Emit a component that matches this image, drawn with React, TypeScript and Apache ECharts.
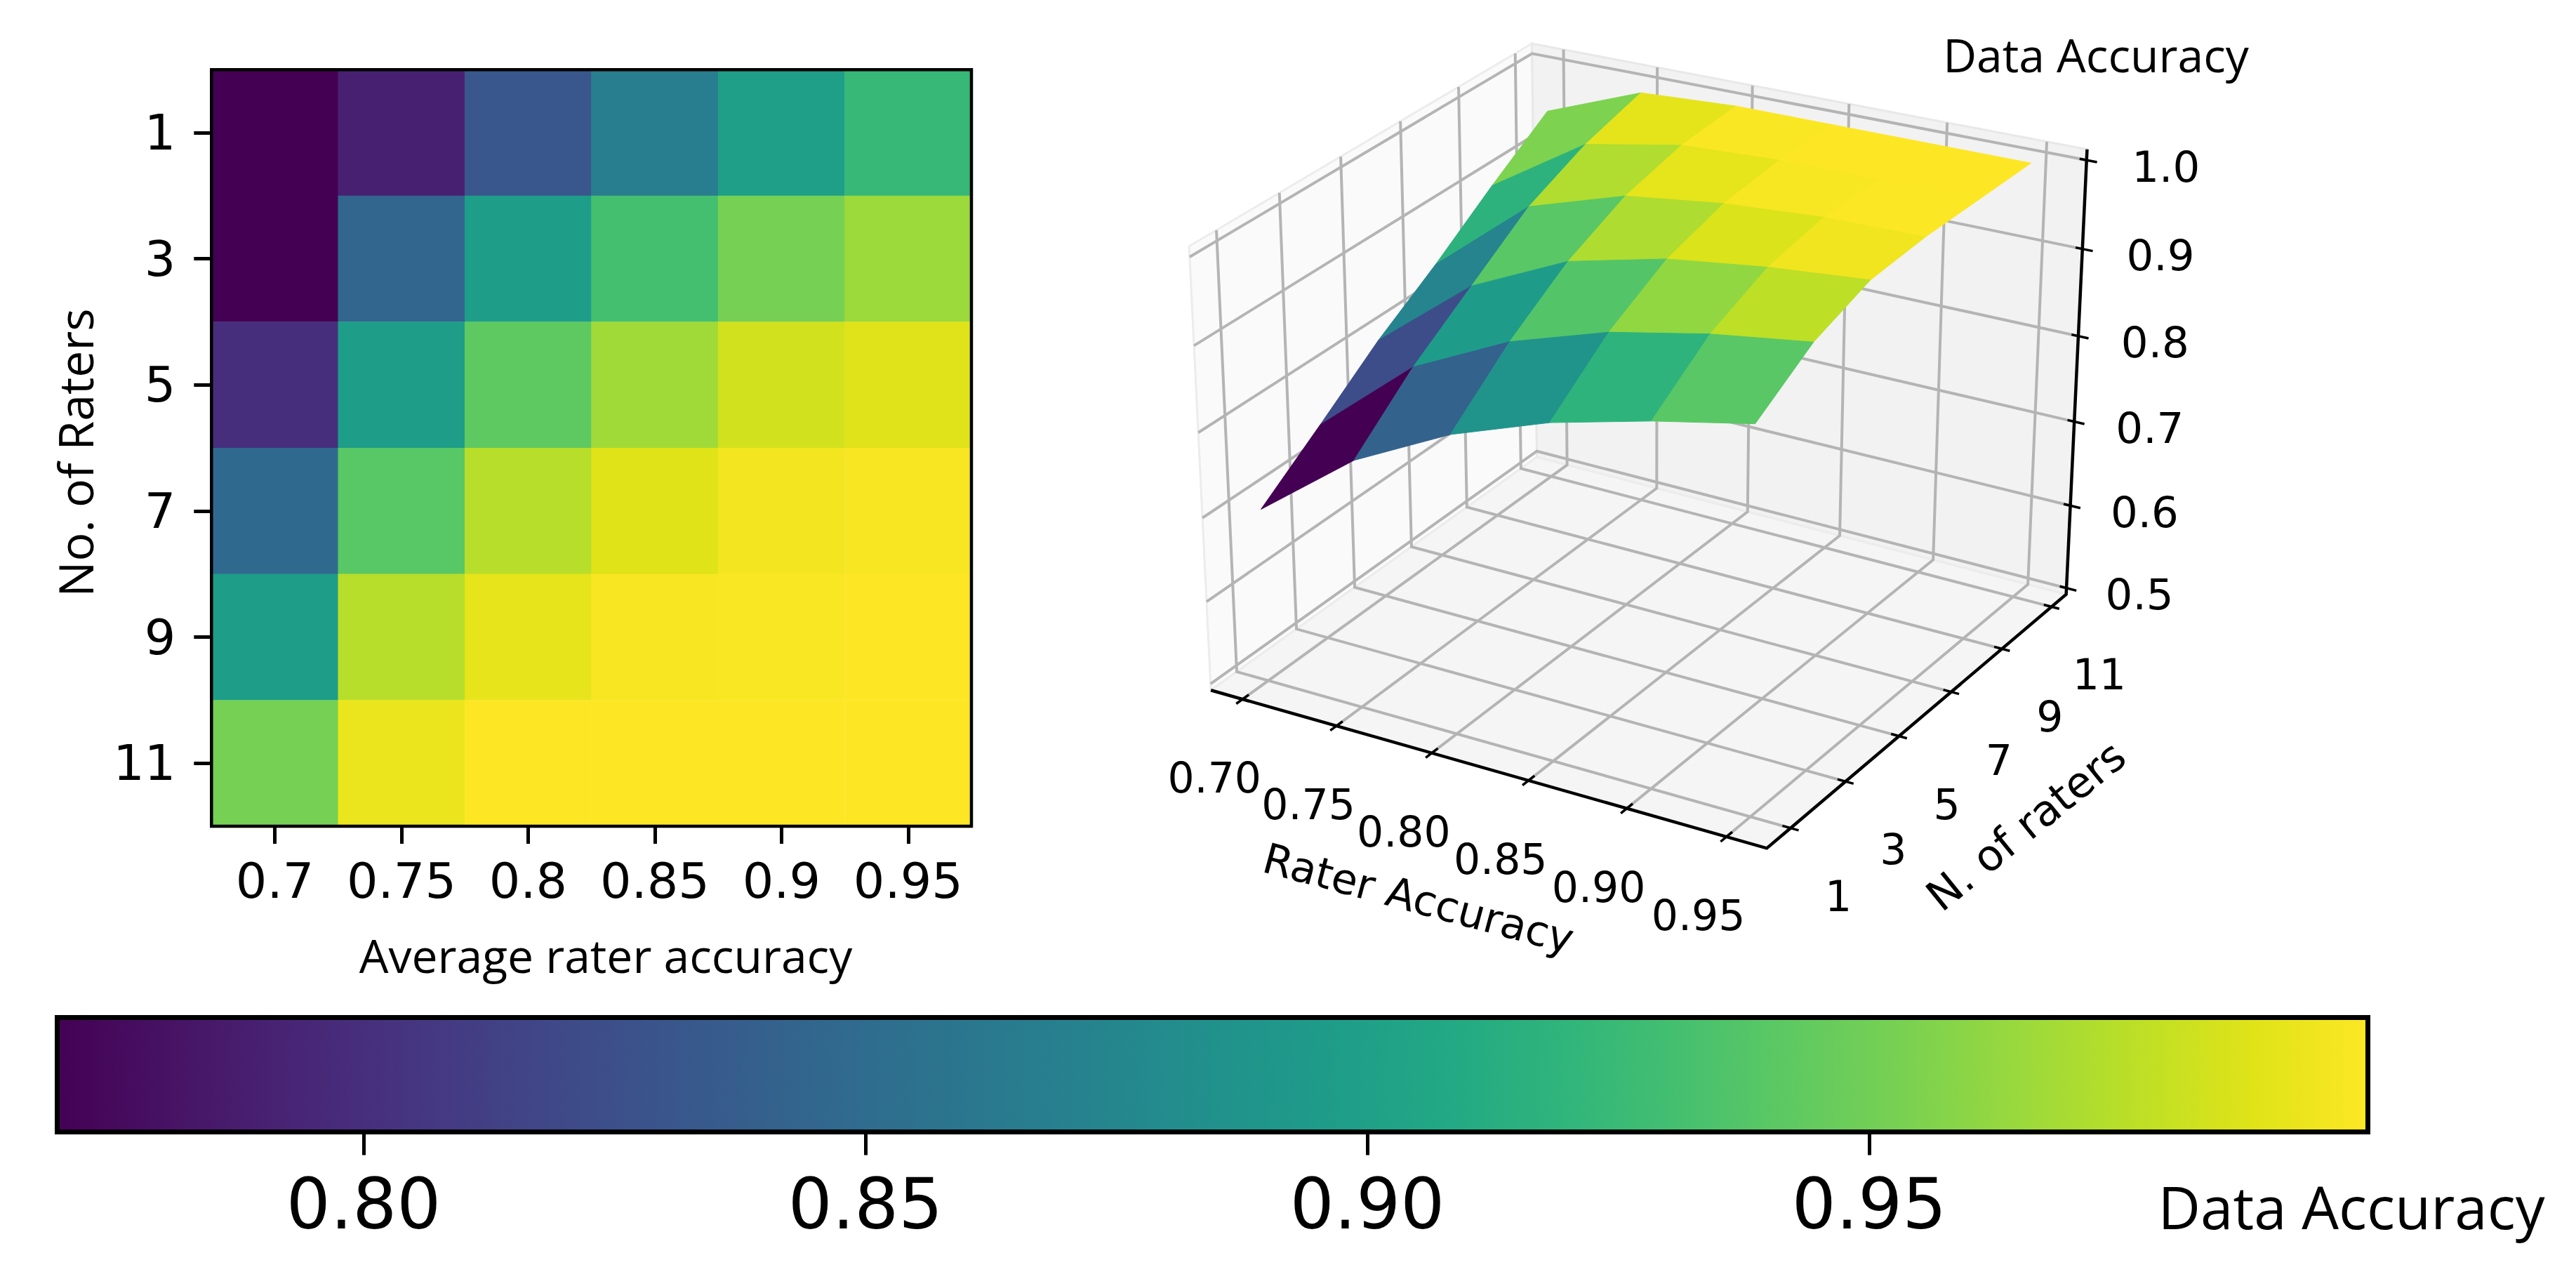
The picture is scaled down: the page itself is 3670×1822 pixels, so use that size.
import React, { useEffect, useRef } from "react";
import * as echarts from "echarts";

const raterAccuracy = ["0.7", "0.75", "0.8", "0.85", "0.9", "0.95"];
const raterCounts = ["1", "3", "5", "7", "9", "11"];

// heat map values, one row per number of raters
const heat1 = [0.77, 0.79, 0.832, 0.867, 0.899, 0.924];
const heat3 = [0.77, 0.845, 0.897, 0.931, 0.952, 0.966];
const heat5 = [0.8, 0.897, 0.943, 0.967, 0.984, 0.989];
const heat7 = [0.848, 0.94, 0.975, 0.9885, 0.996, 0.998];
const heat9 = [0.897, 0.975, 0.9915, 0.998, 0.999, 1.0];
const heat11 = [0.952, 0.993, 1.0, 1.0, 1.0, 1.0];
const heatRows = [heat1, heat3, heat5, heat7, heat9, heat11];

// 3D surface heights
const surfaceX = [0.7, 0.75, 0.8, 0.85, 0.9, 0.95];
const surfaceY = [1, 3, 5, 7, 9, 11];
const surf1 = [0.699, 0.784, 0.84, 0.879, 0.906, 0.928];
const surf3 = [0.751, 0.845, 0.899, 0.934, 0.956, 0.971];
const surf5 = [0.805, 0.894, 0.946, 0.972, 0.986, 0.995];
const surf7 = [0.851, 0.943, 0.978, 0.992, 0.999, 1.0];
const surf9 = [0.902, 0.974, 0.995, 1.0, 1.0, 1.0];
const surf11 = [0.95, 0.994, 1.0, 1.0, 1.0, 1.0];
const surfRows = [surf1, surf3, surf5, surf7, surf9, surf11];

const zTicks = [0.5, 0.6, 0.7, 0.8, 0.9, 1.0];
const xTickLabels = ["0.70", "0.75", "0.80", "0.85", "0.90", "0.95"];
const colorbarTicks = [0.8, 0.85, 0.9, 0.95];
const colorbarRange = [0.76948, 0.99969];
const scaleRange = [0.77, 1.0];

const viridis = [
  "#440154", "#471365", "#482475", "#463480", "#414487", "#3b528b", "#355f8d",
  "#2f6c8e", "#2a788e", "#25848e", "#21918c", "#1e9c89", "#22a884", "#2fb47c",
  "#44bf70", "#5ec962", "#7ad151", "#9bd93c", "#bddf26", "#dfe318", "#fde725",
];

const TICK_FONT = "DejaVu Sans";
const NOTE_FONT = "Open Sans";

// mplot3d style view: elev 30, azim -60, distance 10
const XLIM = [0.683, 0.97];
const YLIM = [0.15, 11.6];
const ZLIM = [0.4922, 1.012];
function project(x: number, y: number, z: number): number[] {
  const dx = (x - XLIM[0]) / (XLIM[1] - XLIM[0]) - 0.5;
  const dy = (y - YLIM[0]) / (YLIM[1] - YLIM[0]) - 0.5;
  const dz = ((z - ZLIM[0]) / (ZLIM[1] - ZLIM[0]) - 0.5) * 0.96 * (1.015 + 0.045 * dx - 0.021 * dy);
  const xv = 0.866025 * dx + 0.5 * dy;
  const yv = -0.25 * dx + 0.433013 * dy + 0.866025 * dz;
  const zv = 0.433013 * dx - 0.75 * dy + 0.5 * dz;
  const f = 10 / (10 - zv);
  return [2344 + 913.5 * xv * f, 605 - 750 * yv * f];
}

function hexToRgb(h: string) {
  return [1, 3, 5].map((i) => parseInt(h.slice(i, i + 2), 16));
}
function viridisAt(v: number) {
  const t = Math.max(0, Math.min(1, (v - scaleRange[0]) / (scaleRange[1] - scaleRange[0]))) * (viridis.length - 1);
  const i = Math.min(viridis.length - 2, Math.floor(t));
  const a = hexToRgb(viridis[i]);
  const b = hexToRgb(viridis[i + 1]);
  const c = a.map((p, k) => Math.round(p + (b[k] - p) * (t - i)));
  return `rgb(${c[0]},${c[1]},${c[2]})`;
}

const line = (pts: number[][], stroke: string, lineWidth: number) => ({
  type: "polyline",
  shape: { points: pts },
  style: { stroke, lineWidth, fill: "none" },
});
const poly = (pts: number[][], fill: string, stroke: string, lineWidth: number) => ({
  type: "polygon",
  shape: { points: pts },
  style: { fill, stroke, lineWidth },
});
const label = (text: string, x: number, y: number, fontSize: number, rotation = 0) => ({
  type: "text",
  x,
  y,
  rotation,
  style: { text, fill: "#000", fontFamily: TICK_FONT, fontSize, align: "center", verticalAlign: "middle" },
});

function renderFrame() {
  const [x0, x1] = XLIM;
  const [y0, y1] = YLIM;
  const [z0, z1] = ZLIM;
  const p = project;
  const children: any[] = [
    poly([p(x0, y0, z0), p(x0, y1, z0), p(x0, y1, z1), p(x0, y0, z1)], "#fafafa", "#ececec", 3),
    poly([p(x0, y1, z0), p(x1, y1, z0), p(x1, y1, z1), p(x0, y1, z1)], "#f2f2f2", "#e8e8e8", 3),
    poly([p(x0, y0, z0), p(x1, y0, z0), p(x1, y1, z0), p(x0, y1, z0)], "#f5f5f5", "#ececec", 3),
  ];
  const grid = "#b4b4b4";
  surfaceX.forEach((x) => children.push(line([p(x, y0, z0), p(x, y1, z0), p(x, y1, z1)], grid, 4)));
  surfaceY.forEach((y) => children.push(line([p(x1, y, z0), p(x0, y, z0), p(x0, y, z1)], grid, 4)));
  zTicks.forEach((z) => children.push(line([p(x0, y0, z), p(x0, y1, z), p(x1, y1, z)], grid, 4)));
  return { type: "group", children };
}

function renderAxes() {
  const [x0, x1] = XLIM;
  const [y0, y1] = YLIM;
  const [z0, z1] = ZLIM;
  const p = project;
  const xr = x1 - x0;
  const yr = y1 - y0;
  const children: any[] = [
    line([p(x0, y0, z0), p(x1, y0, z0), p(x1, y1, z0), p(x1, y1, z1)], "#000", 4.5),
  ];
  surfaceX.forEach((x, i) => {
    children.push(line([p(x, y0 - 0.018 * yr, z0), p(x, y0 + 0.018 * yr, z0)], "#000", 3.5));
    const a = p(x, y0, z0);
    children.push(label(xTickLabels[i], a[0] - 40, a[1] + 112, 60));
  });
  surfaceY.forEach((y, i) => {
    children.push(line([p(x1 - 0.014 * xr, y, z0), p(x1 + 0.014 * xr, y, z0)], "#000", 3.5));
    const a = p(x1, y, z0);
    children.push(label(raterCounts[i], a[0] + 68, a[1] + 97, 60));
  });
  zTicks.forEach((z) => {
    children.push(line([p(x1 - 0.012 * xr, y1, z), p(x1 + 0.018 * xr, y1, z)], "#000", 3.5));
    const a = p(x1, y1, z);
    children.push(label(z.toFixed(1), a[0] + 104 + 18 * (z - 0.5), a[1] + 9, 61));
  });
  children.push(label("Rater Accuracy", 2021, 1280, 60, (-15 * Math.PI) / 180));
  children.push(label("N. of raters", 2886, 1176, 61, (39 * Math.PI) / 180));
  return { type: "group", children };
}

const noteText = (text: string, x: number, y: number, fontSize: number, rotation = 0) => ({
  type: "text",
  x,
  y,
  rotation,
  style: { text, fill: "#000", font: `${fontSize}px "${NOTE_FONT}"`, textAlign: "center", textVerticalAlign: "middle" },
});

export default function App() {
  const ref = useRef<HTMLDivElement>(null);
  useEffect(() => {
    document.body.style.margin = "0";
    const chart = echarts.init(ref.current!, undefined, { renderer: "svg" });

    const heatData: number[][] = [];
    heatRows.forEach((row, r) => row.forEach((v, c) => heatData.push([c, r, v])));

    const cells: number[][] = [];
    for (let j = surfaceY.length - 2; j >= 0; j--) {
      for (let i = 0; i < surfaceX.length - 1; i++) {
        cells.push([
          surfaceX[i], surfaceX[i + 1], surfaceY[j], surfaceY[j + 1],
          surfRows[j][i], surfRows[j][i + 1], surfRows[j + 1][i + 1], surfRows[j + 1][i],
        ]);
      }
    }

    const gradientStops = viridis.map((color, i) => ({ offset: i / (viridis.length - 1), color }));

    chart.setOption({
      animation: false,
      backgroundColor: "#fff",
      grid: [
        { left: 301.3, top: 99.3, width: 1082.7, height: 1077.7, containLabel: false },
        { left: 81.5, top: 1449.5, width: 3292, height: 163, containLabel: false },
      ],
      xAxis: [
        {
          type: "category",
          gridIndex: 0,
          data: raterAccuracy,
          axisLine: { show: true, lineStyle: { color: "#000", width: 4 } },
          axisTick: { show: true, alignWithLabel: true, length: 25, lineStyle: { color: "#000", width: 5 } },
          axisLabel: { interval: 0, color: "#000", fontFamily: TICK_FONT, fontSize: 70, margin: 43 },
          splitLine: { show: false },
        },
        {
          type: "value",
          gridIndex: 1,
          min: colorbarRange[0],
          max: colorbarRange[1],
          axisLine: { show: false },
          axisTick: { show: true, length: 33, customValues: colorbarTicks, lineStyle: { color: "#000", width: 5 } },
          axisLabel: {
            color: "#000",
            fontFamily: TICK_FONT,
            fontSize: 99,
            margin: 53,
            customValues: colorbarTicks,
            formatter: (v: number) => v.toFixed(2),
          },
          splitLine: { show: false },
        },
      ],
      yAxis: [
        {
          type: "category",
          gridIndex: 0,
          inverse: true,
          data: raterCounts,
          axisLine: { show: true, lineStyle: { color: "#000", width: 4 } },
          axisTick: { show: true, alignWithLabel: true, length: 25, lineStyle: { color: "#000", width: 5 } },
          axisLabel: { interval: 0, color: "#000", fontFamily: TICK_FONT, fontSize: 70, margin: 51 },
          splitLine: { show: false },
        },
        {
          type: "value",
          gridIndex: 1,
          min: 0,
          max: 1,
          show: false,
        },
      ],
      visualMap: {
        show: false,
        seriesIndex: 0,
        min: scaleRange[0],
        max: scaleRange[1],
        inRange: { color: viridis },
      },
      series: [
        {
          type: "heatmap",
          xAxisIndex: 0,
          yAxisIndex: 0,
          data: heatData,
          itemStyle: { borderWidth: 0 },
          z: 1,
        },
        {
          type: "custom",
          xAxisIndex: 1,
          yAxisIndex: 1,
          coordinateSystem: "cartesian2d",
          data: [[colorbarRange[0], colorbarRange[1]]],
          renderItem: (_p: any, api: any) => {
            const a = api.coord([api.value(0), 1]);
            const b = api.coord([api.value(1), 0]);
            const shape = { x: a[0], y: a[1], width: b[0] - a[0], height: b[1] - a[1] };
            return {
              type: "group",
              children: [
                {
                  type: "rect",
                  shape,
                  style: { fill: new echarts.graphic.LinearGradient(0, 0, 1, 0, gradientStops) },
                },
                { type: "rect", shape, style: { fill: "none", stroke: "#000", lineWidth: 7 } },
              ],
            };
          },
          z: 2,
        },
        {
          type: "custom",
          coordinateSystem: "none",
          data: [[0]],
          renderItem: renderFrame,
          z: 2,
        },
        {
          type: "custom",
          coordinateSystem: "none",
          data: cells,
          renderItem: (_p: any, api: any) => {
            const x0 = api.value(0);
            const x1 = api.value(1);
            const y0 = api.value(2);
            const y1 = api.value(3);
            const z00 = api.value(4);
            const z10 = api.value(5);
            const z11 = api.value(6);
            const z01 = api.value(7);
            const color = viridisAt((z00 + z10 + z11 + z01) / 4);
            return poly(
              [project(x0, y0, z00), project(x1, y0, z10), project(x1, y1, z11), project(x0, y1, z01)],
              color,
              color,
              1,
            );
          },
          z: 3,
        },
        {
          type: "custom",
          coordinateSystem: "none",
          data: [[0]],
          renderItem: renderAxes,
          z: 4,
        },
      ],
      graphic: [
        {
          type: "rect",
          shape: { x: 301.3, y: 99.3, width: 1082.7, height: 1077.7 },
          style: { fill: "none", stroke: "#000", lineWidth: 4.5 },
          z: 50,
        },
        { ...noteText("Average rater accuracy", 863, 1360, 66), z: 50 },
        { ...noteText("No. of Raters", 106, 645, 68, Math.PI / 2), z: 50 },
        { ...noteText("Data Accuracy", 2986, 77, 66), z: 50 },
        { ...noteText("Data Accuracy", 3350, 1718, 83.5), z: 50 },
      ],
    });
    return () => chart.dispose();
  }, []);
  return <div ref={ref} style={{ position: "absolute", left: 0, top: 0, width: 3670, height: 1822 }} />;
}
